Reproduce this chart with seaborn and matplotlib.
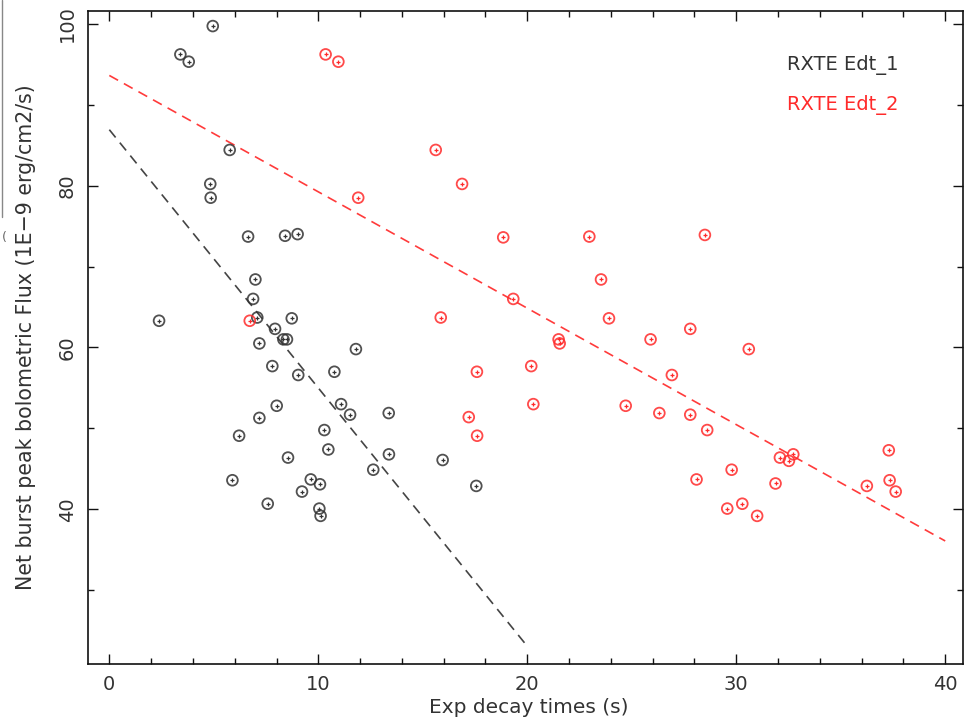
import matplotlib
matplotlib.use("Agg")
import matplotlib.pyplot as plt
import pandas as pd
import seaborn as sns
from matplotlib.lines import Line2D

# RXTE Edt_1 (black) : exp decay time (s) vs net burst peak flux
edt1_tau = [4.95, 3.40, 3.80, 5.76, 4.83, 4.85, 6.64, 8.41, 9.01, 6.99,
            6.88, 7.08, 2.38, 8.73, 7.93, 8.33, 8.50, 7.18, 7.80, 9.04,
            10.77, 11.80, 8.01, 7.18, 6.21, 8.55, 5.89, 9.64, 10.08, 9.22,
            7.58, 10.05, 10.11, 11.09, 11.52, 13.37, 10.29, 10.48, 13.38, 12.63,
            15.95, 17.56]
edt1_flux = [99.7, 96.2, 95.3, 84.4, 80.2, 78.5, 73.7, 73.8, 74.0, 68.4,
             66.0, 63.7, 63.3, 63.6, 62.3, 61.0, 61.0, 60.5, 57.7, 56.6,
             57.0, 59.8, 52.8, 51.3, 49.1, 46.4, 43.6, 43.7, 43.1, 42.2,
             40.7, 40.1, 39.2, 53.0, 51.7, 51.9, 49.8, 47.4, 46.8, 44.9,
             46.1, 42.9]

# RXTE Edt_2 (red)
edt2_tau = [10.35, 10.96, 15.62, 16.88, 11.91, 18.85, 22.97, 28.50, 23.53, 19.33,
            15.86, 23.91, 27.80, 21.50, 21.55, 25.90, 30.60, 20.19, 17.59, 26.92,
            20.29, 24.71, 26.32, 27.80, 17.20, 17.60, 28.61, 32.09, 32.52, 32.73,
            29.78, 28.10, 31.88, 29.57, 30.29, 31.00, 37.30, 37.34, 37.63, 36.25,
            6.72]
edt2_flux = [96.2, 95.3, 84.4, 80.2, 78.5, 73.6, 73.7, 73.9, 68.4, 66.0,
             63.7, 63.6, 62.3, 61.0, 60.5, 61.0, 59.8, 57.7, 57.0, 56.6,
             53.0, 52.8, 51.9, 51.7, 51.4, 49.1, 49.8, 46.4, 46.0, 46.8,
             44.9, 43.7, 43.2, 40.1, 40.7, 39.2, 47.3, 43.6, 42.2, 42.9,
             63.3]

# linear fits (end points)
fit1_tau = [0, 20]
fit1_flux = [86.9, 23.1]
fit2_tau = [0, 40]
fit2_flux = [93.6, 36.1]

series_names = ["RXTE Edt_1", "RXTE Edt_2"]
series_colors = ["#333333", "#ff2a2a"]

sns.set_style("ticks")
plt.rcParams["font.family"] = ["DejaVu Sans"]
plt.rcParams["xtick.direction"] = "in"
plt.rcParams["ytick.direction"] = "in"

df = pd.concat([
    pd.DataFrame({"tau": edt1_tau, "flux": edt1_flux, "series": series_names[0]}),
    pd.DataFrame({"tau": edt2_tau, "flux": edt2_flux, "series": series_names[1]}),
])

fig = plt.figure(figsize=(9.65, 7.22), dpi=100)
ax = fig.add_axes([0.0912, 0.0803, 0.9067, 0.9049])

ax.plot(fit1_tau, fit1_flux, color="#444444", lw=1.2, dashes=(6, 4))
ax.plot(fit2_tau, fit2_flux, color="#ff3b3b", lw=1.2, dashes=(6, 4))

for name, col in zip(series_names, series_colors):
    sub = df[df["series"] == name]
    sns.scatterplot(data=sub, x="tau", y="flux", ax=ax, marker="o", s=60,
                    color=col, facecolor="none", edgecolor=col, linewidth=1.3,
                    alpha=0.85, legend=False, zorder=3)
    sns.scatterplot(data=sub, x="tau", y="flux", ax=ax, marker="+", s=9,
                    color=col, linewidth=0.9, legend=False, zorder=4)

ax.set_xlim(-1.02, 40.85)
ax.set_ylim(20.9, 101.6)
ax.set_xticks([0, 10, 20, 30, 40])
ax.set_xticks(range(0, 41, 2), minor=True)
ax.set_yticks([40, 60, 80, 100])
ax.set_yticks([30, 50, 70, 90], minor=True)
ax.tick_params(which="both", top=True, right=True, colors="#111111",
               labelcolor="#333333", labelsize=14, pad=8)
ax.tick_params(which="major", length=7, width=1)
ax.tick_params(which="minor", length=4.3, width=1)
for lab in ax.get_yticklabels():
    lab.set_rotation(90)
    lab.set_va("center")
for sp in ax.spines.values():
    sp.set_linewidth(1.2)
    sp.set_color("#111111")

ax.set_xlabel("Exp decay times (s)", fontsize=14.5, color="#333333")
ax.set_ylabel("Net burst peak bolometric Flux (1E\u22129 erg/cm2/s)", fontsize=14.8,
              color="#333333")
ax.xaxis.set_label_coords(0.504, -0.052)
ax.yaxis.set_label_coords(-0.060, 0.5)

ax.text(0.799, 0.917, series_names[0], transform=ax.transAxes, fontsize=14,
        color="#333333", ha="left", va="center")
ax.text(0.799, 0.855, series_names[1], transform=ax.transAxes, fontsize=14,
        color=series_colors[1], ha="left", va="center")

# stray edge artefact at the top-left of the original image
fig.add_artist(Line2D([2 / 965, 2 / 965], [1, 1 - 217 / 722], color="#888888", lw=1))
fig.text(4 / 965, 1 - 237 / 722, "(", fontsize=9, color="#666666", ha="center", va="center")

fig.savefig("out.png", dpi=100)
